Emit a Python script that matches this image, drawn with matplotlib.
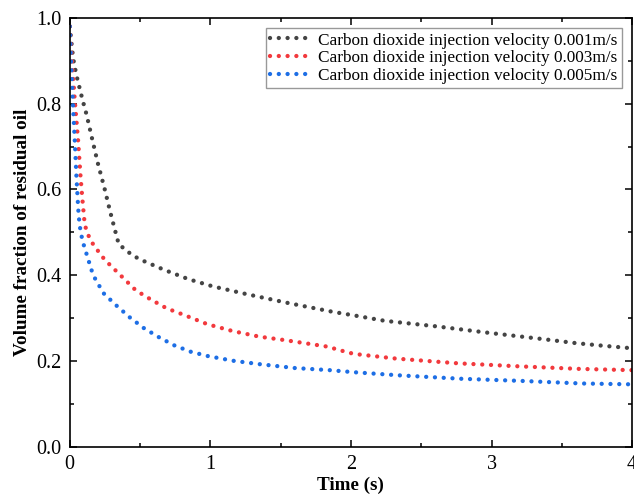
import matplotlib
matplotlib.use("Agg")
import matplotlib.pyplot as plt
from matplotlib.ticker import MultipleLocator

plt.rcParams['font.family'] = ['Liberation Serif', 'DejaVu Serif']
plt.rcParams['mathtext.fontset'] = 'stix'

t_001 = [0.0, 0.024, 0.047, 0.09, 0.12, 0.16, 0.20, 0.247, 0.287, 0.318, 0.349, 0.40, 0.44, 0.50,
         0.67, 0.845, 1.02, 1.26, 1.56, 1.87, 2.05, 2.24, 2.61, 2.98, 3.35, 3.60, 3.79, 4.0]
v_001 = [0.98, 0.906, 0.867, 0.81, 0.774, 0.717, 0.661, 0.603, 0.549, 0.51, 0.472, 0.459, 0.448, 0.437,
         0.413, 0.391, 0.374, 0.356, 0.335, 0.315, 0.305, 0.294, 0.281, 0.266, 0.252, 0.242, 0.236, 0.230]

t_003 = [0.0, 0.02, 0.036, 0.06, 0.076, 0.09, 0.107, 0.142, 0.175, 0.21, 0.247, 0.29, 0.38, 0.47,
         0.58, 0.69, 0.81, 0.98, 1.16, 1.35, 1.53, 1.71, 1.83, 1.96, 2.02, 2.32, 2.76, 3.19, 3.62, 4.0]
v_003 = [0.98, 0.88, 0.807, 0.712, 0.634, 0.577, 0.517, 0.485, 0.468, 0.453, 0.437, 0.423, 0.394, 0.365,
         0.343, 0.323, 0.308, 0.286, 0.270, 0.257, 0.249, 0.240, 0.234, 0.222, 0.217, 0.206, 0.195, 0.188, 0.182, 0.179]

t_005 = [0.0, 0.012, 0.024, 0.036, 0.047, 0.06, 0.07, 0.09, 0.123, 0.16, 0.185, 0.244, 0.334, 0.427,
         0.527, 0.633, 0.742, 0.86, 0.98, 1.16, 1.35, 1.60, 1.85, 2.03, 2.34, 2.78, 3.21, 3.64, 4.0]
v_005 = [0.98, 0.88, 0.79, 0.712, 0.634, 0.556, 0.517, 0.481, 0.446, 0.407, 0.389, 0.357, 0.329, 0.302,
         0.277, 0.256, 0.237, 0.222, 0.212, 0.201, 0.193, 0.184, 0.179, 0.174, 0.167, 0.159, 0.154, 0.148, 0.146]

labels = ["Carbon dioxide injection velocity 0.001m/s",
          "Carbon dioxide injection velocity 0.003m/s",
          "Carbon dioxide injection velocity 0.005m/s"]
colors = ["#444444", "#f2393d", "#1d6ee5"]

fig = plt.figure(figsize=(6.34, 4.95), dpi=100)
ax = fig.add_axes([0.110, 0.097, 0.887, 0.867])

for t, v, lab, c in zip([t_001, t_003, t_005], [v_001, v_003, v_005], labels, colors):
    ax.plot(t, v, color=c, lw=3.1, linestyle=(0, (0.01, 2.03)), dash_capstyle='round', label=lab)

ax.set_xlim(0, 4)
ax.set_ylim(0, 1.0)
ax.xaxis.set_major_locator(MultipleLocator(1))
ax.xaxis.set_minor_locator(MultipleLocator(0.5))
ax.yaxis.set_major_locator(MultipleLocator(0.2))
ax.yaxis.set_minor_locator(MultipleLocator(0.1))
ax.yaxis.set_major_formatter(matplotlib.ticker.FormatStrFormatter('%.1f'))
ax.tick_params(which='both', direction='in', top=True, right=True, labelsize=14.5, width=1.1)
ax.tick_params(which='major', length=5, pad=6)
ax.tick_params(which='minor', length=3)
for s in ax.spines.values():
    s.set_linewidth(1.2)

ax.set_xlabel("Time (s)", fontsize=13.8, fontweight='bold', labelpad=2)
ax.set_ylabel("Volume fraction of residual oil", fontsize=13.8, fontweight='bold', labelpad=4)

leg = ax.legend(loc='upper right', fontsize=12.4, frameon=True, fancybox=False,
                edgecolor='#808080', handlelength=2.4, handletextpad=0.4,
                borderpad=0.25, labelspacing=0.1, borderaxespad=0.6)
leg.get_frame().set_linewidth(1.0)

fig.savefig("out.png", dpi=100)
